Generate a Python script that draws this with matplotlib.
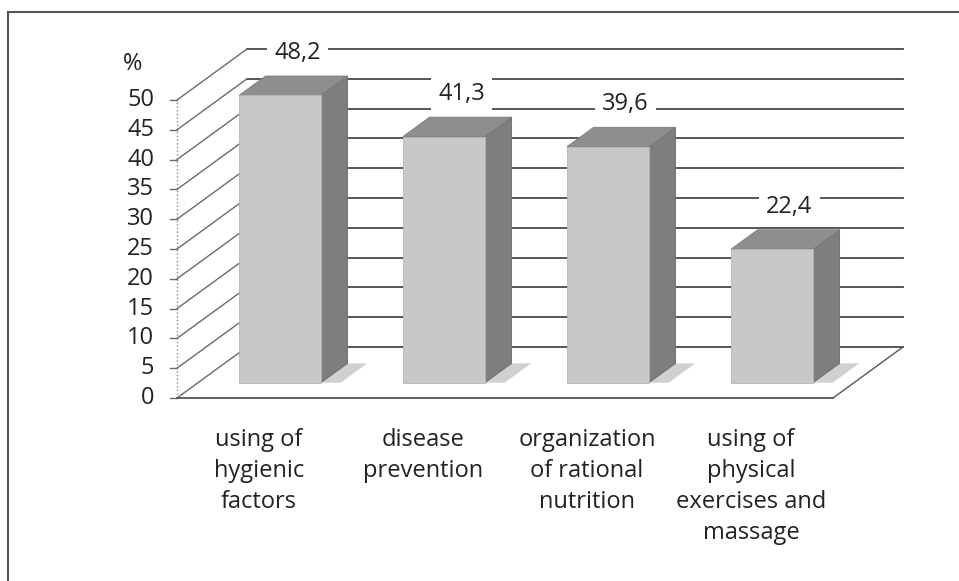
import numpy as np
import matplotlib
matplotlib.use('Agg')
import matplotlib.pyplot as plt
from matplotlib.patches import Polygon, Rectangle

# data
categories = ['using of\nhygienic\nfactors', 'disease\nprevention',
              'organization\nof rational\nnutrition',
              'using of\nphysical\nexercises and\nmassage']
values = [48.2, 41.3, 39.6, 22.4]
value_labels = ['48,2', '41,3', '39,6', '22,4']
yticks = np.arange(0, 55, 5)

plt.rcParams['font.family'] = ['Open Sans', 'DejaVu Sans']

W, H = 959, 581
fig = plt.figure(figsize=(W / 100, H / 100), dpi=100)
ax = fig.add_axes([0, 0, 1, 1])

# front plane: x = category units (164 px each), y = value units (5.96 px each)
x0px, y0px, xu, yu = 177, 398, 164.0, 5.96
ax.set_xlim(-x0px / xu, (W - x0px) / xu)
ax.set_ylim(-(H - y0px) / yu, y0px / yu)
ax.axis('off')

# depth offset for the pseudo 3d view
DX = 70 / xu
DY = 51 / yu
n = len(values)

def proj(x, y, z):
    return x + z * DX, y + z * DY

# back wall gridlines
for v in yticks:
    ax.plot([DX, n + DX], [v + DY, v + DY], color='#4a4a4a', lw=1.3, zorder=1)
    # left wall diagonals
    ax.plot([0, DX], [v, v + DY], color='#6a6a6a', lw=1.0, zorder=1)
    # tick marks
    ax.plot([-0.045, 0], [v, v], color='#6a6a6a', lw=1.0, zorder=1)
    ax.text(-0.14, v, str(v), ha='right', va='center', fontsize=17, color='#222222')

ax.plot([0, 0], [0, yticks[-1]], color='#888888', lw=1.0, ls=':', zorder=1)
ax.text(-0.27, 56, '%', ha='center', va='center', fontsize=17, color='#222222')

# floor
ax.plot([0, n], [0, 0], color='#555555', lw=1.3, zorder=1)
ax.plot([n, n + DX], [0, DY], color='#555555', lw=1.0, zorder=1)

# bars
z0, z1 = 0.3, 0.68
hw = 0.25
for i, v in enumerate(values):
    c = i + 0.5
    # floor shadow
    sh = [proj(c - hw, 0, z0), proj(c + hw + 0.12, 0, z0),
          proj(c + hw + 0.12, 0, z1), proj(c - hw, 0, z1)]
    ax.add_patch(Polygon(sh, closed=True, fc='#d0d0d0', ec='none', zorder=2))
    front = [proj(c - hw, 0, z0), proj(c + hw, 0, z0),
             proj(c + hw, v, z0), proj(c - hw, v, z0)]
    side = [proj(c + hw, 0, z0), proj(c + hw, 0, z1),
            proj(c + hw, v, z1), proj(c + hw, v, z0)]
    top = [proj(c - hw, v, z0), proj(c + hw, v, z0),
           proj(c + hw, v, z1), proj(c - hw, v, z1)]
    ax.add_patch(Polygon(side, closed=True, fc='#7e7e7e', ec='#6a6a6a', lw=0.6, zorder=3))
    ax.add_patch(Polygon(top, closed=True, fc='#8e8e8e', ec='#7a7a7a', lw=0.6, zorder=3))
    ax.add_patch(Polygon(front, closed=True, fc='#c8c8c8', ec='#b5b5b5', lw=0.6, zorder=4))

    lx, ly = proj(c, v + 5, 0.55)
    ax.text(lx, ly, value_labels[i], ha='center', va='center', fontsize=17,
            color='#222222', zorder=5,
            bbox=dict(boxstyle='square,pad=0.3', fc='white', ec='none'))

    ax.text(c, -5.0, categories[i], ha='center', va='top', fontsize=17,
            color='#222222', linespacing=1.4)

# outer frame
fig.patches.append(Rectangle((8 / W, -0.1), 1.2, 1 - 12 / H + 0.1,
                             transform=fig.transFigure, fill=False,
                             ec='#555555', lw=1.5))

fig.savefig('out.png', dpi=100)
